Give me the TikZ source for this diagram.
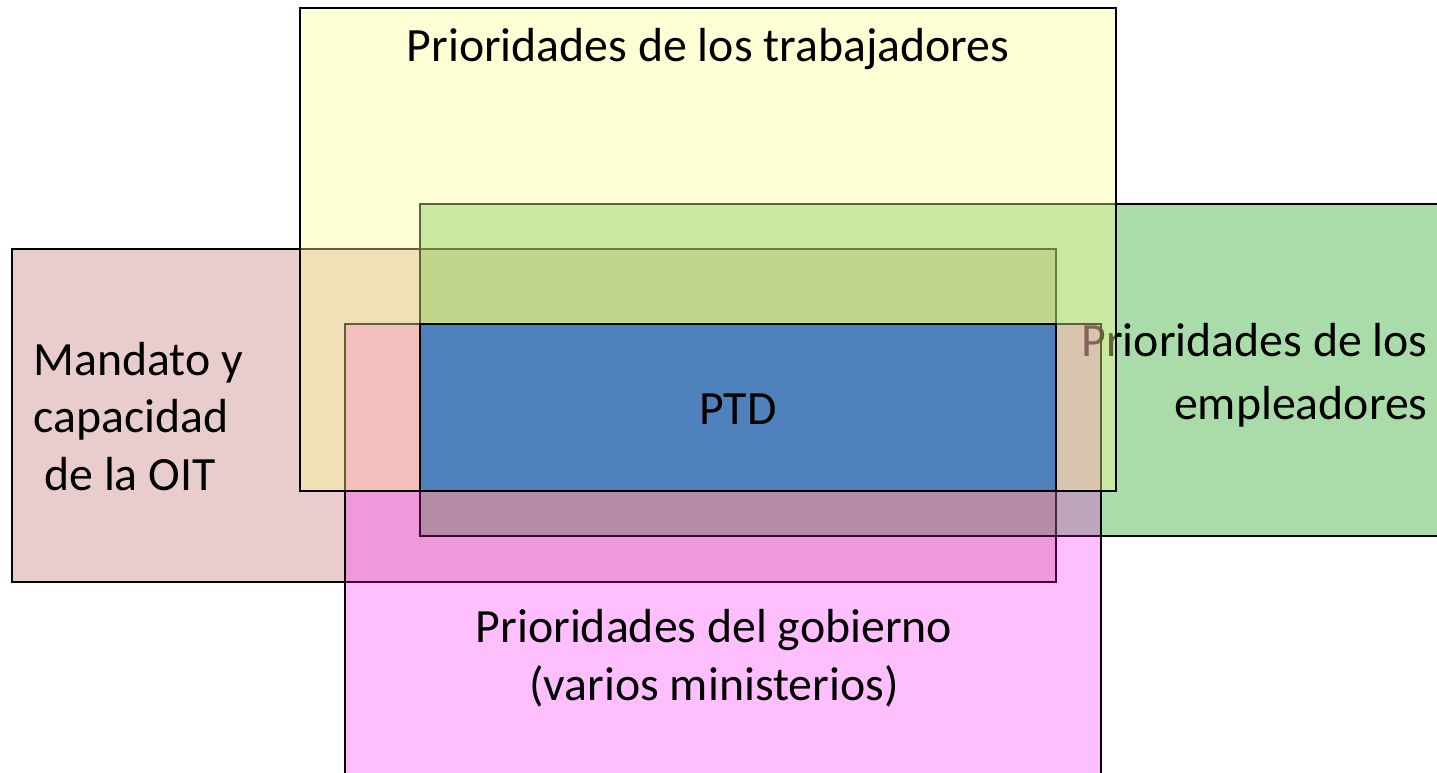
\documentclass[tikz,border=0pt]{standalone}
\usepackage{fontspec}
\setmainfont{Carlito}
\usepackage{tikz}
\definecolor{oitpink}{RGB}{233,205,205}
\definecolor{empgreen}{RGB}{10,155,10}
\definecolor{govmagenta}{RGB}{255,0,255}
\definecolor{workyellow}{RGB}{255,255,144}
\definecolor{ptdblue}{RGB}{79,129,189}
\tikzstyle{area} = [draw=black, line width=0.8pt]
\tikzstyle{boxtext} = [inner sep=0pt, font=\fontsize{27.2}{32.6}\selectfont]

\begin{document}
\begin{tikzpicture}[x=0.02cm,y=-0.02cm]
    \useasboundingbox (0,0) rectangle (1437,773);
    \clip (0,0) rectangle (1437,773);
    % mandato de la OIT
    \path[area,fill=oitpink] (12,249) rectangle (1056,582);
    \node (oit) [boxtext,align=left,anchor=base west] at (33,490) {Mandato y\\capacidad\\\hspace*{0.23em}de la OIT};
    % empleadores
    \path[area,fill=empgreen,fill opacity=0.35] (420,204) rectangle (1445,536);
    \node (employers) [boxtext,align=right,anchor=base east] at (1428,419) {Prioridades de los\\[0.1em]empleadores};
    % gobierno
    \path[area,fill=govmagenta,fill opacity=0.25] (345,324) rectangle (1101,780);
    \node (government) [boxtext,align=center,anchor=base] at (714,700) {Prioridades del gobierno\\(varios ministerios)};
    % trabajadores
    \path[area,fill=workyellow,fill opacity=0.38] (300,8) rectangle (1116,491);
    \node (workers) [boxtext,anchor=base] at (708,62) {Prioridades de los trabajadores};
    % PTD
    \path[area,fill=ptdblue] (420,324) rectangle (1056,491);
    \node (ptd) [boxtext,anchor=base] at (738,424) {PTD};
\end{tikzpicture}
\end{document}
